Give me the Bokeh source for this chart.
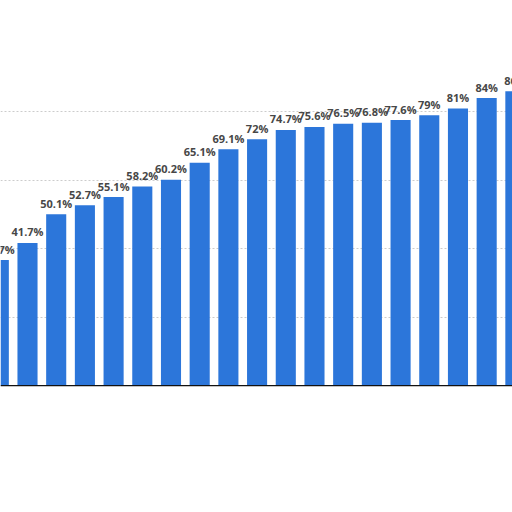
from bokeh.plotting import figure
from bokeh.models import Range1d, ColumnDataSource, Span, FixedTicker
from bokeh.core.properties import value
from bokeh.embed import file_html
from bokeh.resources import INLINE

# Data (chart is cropped at both sides)
positions = list(range(19))
values = [36.7, 41.7, 50.1, 52.7, 55.1, 58.2, 60.2, 65.1, 69.1, 72.0,
          74.7, 75.6, 76.5, 76.8, 77.6, 79.0, 81.0, 84.0, 86.0]
labels = ["36.7%", "41.7%", "50.1%", "52.7%", "55.1%", "58.2%", "60.2%", "65.1%",
          "69.1%", "72%", "74.7%", "75.6%", "76.5%", "76.8%", "77.6%", "79%",
          "81%", "84%", "86%"]
grid_ticks = [20, 40, 60, 80]

src = ColumnDataSource(dict(x=positions, top=values, label=labels))

p = figure(width=512, height=512, output_backend="svg", toolbar_location=None,
           x_range=Range1d(0.059, 17.90), y_range=Range1d(-0.2, 112.5),
           min_border_left=0, min_border_right=0, min_border_top=0,
           min_border_bottom=126)

p.vbar(x="x", top="top", width=0.70, bottom=0, source=src,
       fill_color="#2c76da", line_color=None)
p.text(x="x", y="top", text="label", source=src, text_align="center",
       text_baseline="alphabetic", y_offset=-11,
       text_font=value("Open Sans"), text_font_style="bold",
       text_font_size="11px", text_color="#474747")

p.xaxis.visible = False
p.yaxis.visible = False
p.xgrid.visible = False
p.yaxis.ticker = FixedTicker(ticks=grid_ticks)
p.ygrid.ticker = FixedTicker(ticks=grid_ticks)
p.ygrid.grid_line_color = "#cccccc"
p.ygrid.grid_line_dash = "2 2"
p.ygrid.grid_line_width = 1
p.outline_line_color = None
p.background_fill_color = "white"
p.border_fill_color = "white"

p.add_layout(Span(location=0, dimension="width", line_color="#111111", line_width=1.5))

open("out.html", "w").write(file_html(p, INLINE))
